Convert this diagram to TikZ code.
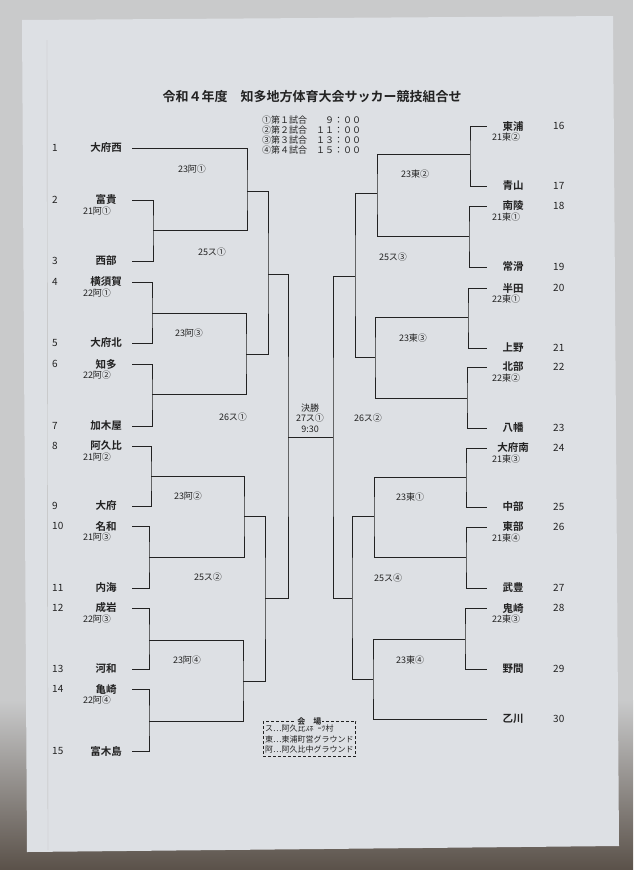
\documentclass[tikz,border=0pt]{standalone}
\usepackage{fontspec}
\setmainfont{Noto Sans CJK JP}[BoldFont={* Bold}]
\usetikzlibrary{calc,positioning}
\definecolor{paper}{HTML}{DDE0E4}
\definecolor{desktop}{HTML}{C9CACB}
\definecolor{deskbottom}{HTML}{5A5149}
\definecolor{ink}{HTML}{222222}
\tikzset{%
    lteam/.style={%
        minimum width=52pt, inner sep=0pt, text=ink, font=\fontsize{10.5}{11}\selectfont\bfseries
    },
    rteam/.style={%
        lteam
    },
    num/.style={%
        anchor=west, inner sep=0pt, text=ink, font=\fontsize{10}{11}\selectfont
    },
    sub/.style={%
        inner sep=0pt, text=ink, font=\fontsize{9}{10}\selectfont
    },
    match/.style={%
        inner sep=0pt, text=ink, align=center, font=\fontsize{9}{10.5}\selectfont
    },
    bracket/.style={%
        draw=ink, line width=0.8pt
    },
    venue/.style={%
        draw=ink, densely dashed, inner xsep=2pt, inner ysep=3.5pt, align=left, text=ink, font=\fontsize{8}{10.5}\selectfont
    },
}

\begin{document}
\begin{tikzpicture}[x=1pt,y=-1pt]

    \useasboundingbox (0,0) rectangle (633,870);
    \fill[desktop] (0,0) rectangle (633,870);
    \shade[top color=desktop, bottom color=deskbottom] (0,700) rectangle (633,870);
    \fill[paper] (22,20) -- (613,16) -- (619,846) -- (27,852) -- cycle;
    \draw[black!25] (47,40) -- (48,850);

    \node (title) at (312,97) [text=ink, font=\fontsize{13}{14}\selectfont\bfseries] {令和４年度　知多地方体育大会サッカー競技組合せ};
    \node (sched) at (262,116) [anchor=north west, inner sep=0pt, align=left, text=ink, font=\fontsize{9}{10}\selectfont]
      {①第１試合　　９：００\\②第２試合　１１：００\\③第３試合　１３：００\\④第４試合　１５：００};

    % left block
    \begin{scope}
      \foreach \i/\y/\name in {1/148/大府西, 2/200/富貴, 3/261/西部, 4/282/横須賀, 5/343/大府北,
          6/364/知多, 7/426/加木屋, 8/446/阿久比, 9/506/大府, 10/526/名和, 11/588/内海,
          12/608/成岩, 13/669/河和, 14/689/亀崎, 15/751/富木島} {
        \node[num] (n\i) at (52,\y) {\i};
        \node[lteam] (t\i) at (106,\y) {\name};
      }
      \foreach \i/\lab in {2/21阿①, 4/22阿①, 6/22阿②, 8/21阿②, 10/21阿③, 12/22阿③, 14/22阿④}
        \node[sub] (s\i) at ($(t\i.center)+(-9,11)$) {\lab};

      \coordinate (a211) at (153,230);
      \coordinate (a221) at (152,313);
      \coordinate (a222) at (152,394);
      \coordinate (a212) at (151,476);
      \coordinate (a213) at (149,557);
      \coordinate (a223) at (149,640);
      \coordinate (a224) at (149,721);
      \coordinate (a231) at (247,191);
      \coordinate (a233) at (246,354);
      \coordinate (a232) at (244,516);
      \coordinate (a234) at (243,681);
      \coordinate (s251) at (268,274);
      \coordinate (s252) at (265,598);
      \coordinate (s261) at (288,437);

      \draw[bracket] (t2.east) -| (a211) |- (t3.east);
      \draw[bracket] (t4.east) -| (a221) |- (t5.east);
      \draw[bracket] (t6.east) -| (a222) |- (t7.east);
      \draw[bracket] (t8.east) -| (a212) |- (t9.east);
      \draw[bracket] (t10.east) -| (a213) |- (t11.east);
      \draw[bracket] (t12.east) -| (a223) |- (t13.east);
      \draw[bracket] (t14.east) -| (a224) |- (t15.east);
      \draw[bracket] (t1.east) -| (a231) |- (a211);
      \draw[bracket] (a221) -| (a233) |- (a222);
      \draw[bracket] (a212) -| (a232) |- (a213);
      \draw[bracket] (a223) -| (a234) |- (a224);
      \draw[bracket] (a231) -| (s251) |- (a233);
      \draw[bracket] (a232) -| (s252) |- (a234);
      \draw[bracket] (s251) -| (s261) |- (s252);

      \node[match] (m231) at (192,169) {23阿①};
      \node[match] (m251) at (212,252) {25ス①};
      \node[match] (m233) at (189,333) {23阿③};
      \node[match] (m261) at (233,417) {26ス①};
      \node[match] (m232) at (188,496) {23阿②};
      \node[match] (m252) at (208,577) {25ス②};
      \node[match] (m234) at (187,660) {23阿④};
    \end{scope}

    % right block
    \begin{scope}
      \foreach \i/\y/\name in {16/126/東浦, 17/186/青山, 18/206/南陵, 19/267/常滑, 20/288/半田,
          21/348/上野, 22/367/北部, 23/428/八幡, 24/448/大府南, 25/507/中部, 26/527/東部,
          27/588/武豊, 28/608/鬼崎, 29/669/野間, 30/719/乙川} {
        \node[num] (n\i) at (553,\y) {\i};
        \node[rteam] (t\i) at (513,\y) {\name};
      }
      \foreach \i/\lab in {16/21東②, 18/21東①, 20/22東①, 22/22東②, 24/21東③, 26/21東④, 28/22東③}
        \node[sub] (s\i) at ($(t\i.center)+(-7,11)$) {\lab};

      \coordinate (h212) at (470,154);
      \coordinate (h211) at (469,236);
      \coordinate (h221) at (468,317);
      \coordinate (h222) at (467,398);
      \coordinate (h213) at (466,477);
      \coordinate (h214) at (466,557);
      \coordinate (h223) at (465,639);
      \coordinate (h232) at (377,193);
      \coordinate (h233) at (375,357);
      \coordinate (h231) at (374,516);
      \coordinate (h234) at (373,679);
      \coordinate (s253) at (355,276);
      \coordinate (s254) at (352,598);
      \coordinate (s262) at (333,437);

      \draw[bracket] (t16.west) -| (h212) |- (t17.west);
      \draw[bracket] (t18.west) -| (h211) |- (t19.west);
      \draw[bracket] (t20.west) -| (h221) |- (t21.west);
      \draw[bracket] (t22.west) -| (h222) |- (t23.west);
      \draw[bracket] (t24.west) -| (h213) |- (t25.west);
      \draw[bracket] (t26.west) -| (h214) |- (t27.west);
      \draw[bracket] (t28.west) -| (h223) |- (t29.west);
      \draw[bracket] (h212) -| (h232) |- (h211);
      \draw[bracket] (h221) -| (h233) |- (h222);
      \draw[bracket] (h213) -| (h231) |- (h214);
      \draw[bracket] (h223) -| (h234) |- (t30.west);
      \draw[bracket] (h232) -| (s253) |- (h233);
      \draw[bracket] (h231) -| (s254) |- (h234);
      \draw[bracket] (s253) -| (s262) |- (s254);

      \node[match] (m232h) at (415,174) {23東②};
      \node[match] (m253) at (393,257) {25ス③};
      \node[match] (m233h) at (413,338) {23東③};
      \node[match] (m262) at (368,418) {26ス②};
      \node[match] (m231h) at (410,497) {23東①};
      \node[match] (m254) at (388,578) {25ス④};
      \node[match] (m234h) at (410,660) {23東④};
    \end{scope}

    % final
    \draw[bracket] (s261) -- (s262);
    \node[match] (final) at (310,418) {決勝\\27ス①\\9:30};

    % venues
    \node[venue, anchor=north west] (venue) at (263,721) {ス…阿久比ｽﾎﾟｰﾂ村\\東…東浦町営グラウンド\\阿…阿久比中グラウンド};
    \node[fill=paper, inner sep=1pt, text=ink, font=\fontsize{8}{9}\selectfont\bfseries] (venuetitle) at (venue.north) {会　場};

\end{tikzpicture}
\end{document}
